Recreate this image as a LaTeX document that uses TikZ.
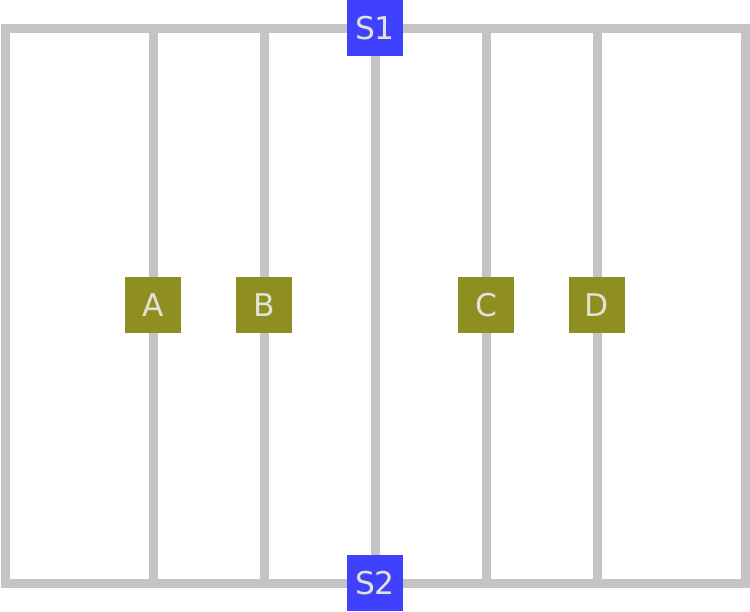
\documentclass[tikz,border=0pt]{standalone}
\usepackage{fontspec}
\setmainfont{DejaVu Sans}
\usetikzlibrary{positioning}

\definecolor{railgray}{RGB}{196,196,196}
\definecolor{stblue}{RGB}{64,64,255}
\definecolor{tapolive}{RGB}{143,143,33}
\definecolor{lbltext}{RGB}{226,226,216}

\begin{document}
\begin{tikzpicture}[x=0.75pt, y=-0.75pt,
    rail/.style={draw=railgray, line width=6.75pt},
    stbox/.style={fill=stblue, text=lbltext, minimum size=42pt, inner sep=0pt, font=\fontsize{23.5}{24}\selectfont},
    tapbox/.style={fill=tapolive, text=lbltext, minimum size=42pt, inner sep=0pt, font=\fontsize{23.5}{24}\selectfont}]
    \useasboundingbox (0, 0) rectangle (750, 611);

    % frame corners
    \coordinate (tl) at (5, 28);
    \coordinate (tr) at (745, 28);
    \coordinate (bl) at (5, 583);
    \coordinate (br) at (745, 583);

    % stations
    \node[stbox] (S1) at (375, 28) {S1};
    \node[stbox] (S2) at (375, 583) {S2};

    % taps
    \node[tapbox] (A) at (153, 305) {A};
    \node[tapbox] (B) at (264, 305) {B};
    \node[tapbox] (C) at (486, 305) {C};
    \node[tapbox] (D) at (597, 305) {D};

    % frame
    \draw[rail] (S1) -- (tr) -- (br) -- (S2);
    \draw[rail] (S2) -- (bl) -- (tl) -- (S1);

    % middle line
    \draw[rail] (S1) -- (S2);

    % lines through the taps
    \foreach \t/\x in {A/153, B/264, C/486, D/597} {
        \coordinate (top\t) at (\x, 28);
        \coordinate (bot\t) at (\x, 583);
        \draw[rail] (top\t) -- (\t) -- (bot\t);
    }
\end{tikzpicture}
\end{document}
